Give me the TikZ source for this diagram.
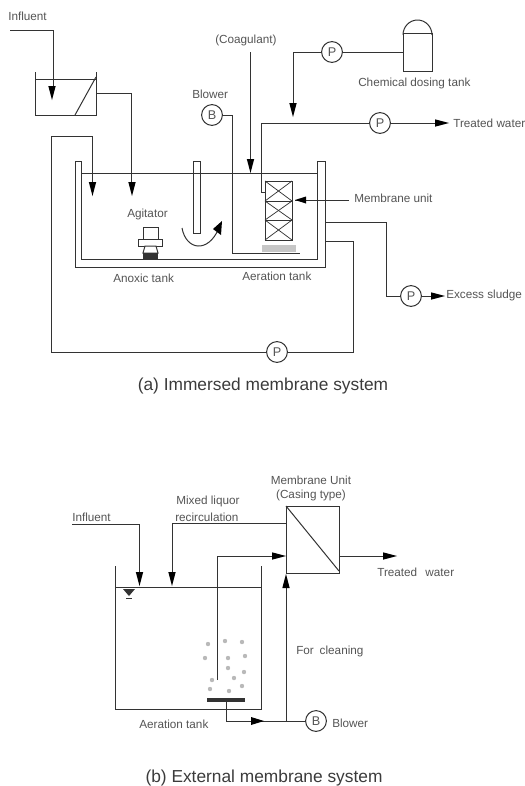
\documentclass[tikz,border=0pt]{standalone}
\usepackage{fontspec}
\setmainfont{Liberation Sans}
\definecolor{ln}{gray}{0.2}
\definecolor{tx}{gray}{0.33}
\tikzset{
  x=0.75pt,y=-0.75pt,
  pipe/.style={draw=ln,line width=0.75pt},
  thinpipe/.style={draw=ln,line width=0.55pt},
  lab/.style={font=\fontsize{8.8}{10}\selectfont,text=tx,inner sep=0pt,anchor=base west},
  captext/.style={font=\fontsize{13}{15}\selectfont,text=tx!70!black,inner sep=0pt,anchor=base},
  pump/.style={circle,draw=ln,line width=0.75pt,fill=white,minimum size=15.6pt,inner sep=0pt,font=\fontsize{9.5}{10}\selectfont,text=tx},
}
\newcommand{\hdD}[2]{\fill[black] (#1-3.7,#2-14) -- (#1+3.7,#2-14) -- (#1,#2) -- cycle;}
\newcommand{\hdR}[2]{\fill[black] (#1-14,#2-3.7) -- (#1-14,#2+3.7) -- (#1,#2) -- cycle;}
\begin{document}
\begin{tikzpicture}
\useasboundingbox (0,0) rectangle (525,786);
% ---- (a) labels
\node[lab] (tInf) at (8,20) {Influent};
\node[lab] (tCoag) at (215,43) {(Coagulant)};
\node[lab] (tBlow) at (192,98) {Blower};
\node[lab] (tChem) at (358,86) {Chemical dosing tank};
\node[lab] (tTreat) at (453,127) {Treated water};
\node[lab] (tMem) at (354,202) {Membrane unit};
\node[lab] (tAgit) at (127,217) {Agitator};
\node[lab] (tAno) at (113,282) {Anoxic tank};
\node[lab] (tAer) at (242,280) {Aeration tank};
\node[lab] (tExc) at (446,298) {Excess sludge};
\node[captext] (tCapA) at (263,390) {(a) Immersed membrane system};
% ---- (a) small influent tank
\coordinate (infS) at (10,30);
\coordinate (infC) at (53,30);
\draw[pipe] (infS) -- (infC) -- (53,90);
\hdD{52}{100}
\draw[pipe] (35,72) -- (35,115) -- (96,115) -- (96,72);
\draw[thinpipe] (35,79) -- (96,79);
\draw[pipe] (75,115) -- (96,77);
\draw[pipe] (96,93) -- (131,93) -- (131,185);
\hdD{132}{196}
% ---- (a) main tank
\draw[pipe] (75,161) -- (75,267) -- (325,267) -- (325,161) -- (317,161) -- (317,259) -- (81,259) -- (81,161) -- cycle;
\draw[pipe] (81,173) -- (317,173);
% baffle
\draw[pipe] (193,161) -- (193,233) -- (200,233) -- (200,161) -- cycle;
% recirc
\node[pump] (pRet) at (277,352) {P};
\draw[pipe] (325,241) -- (353,241) -- (353,352) -- (pRet);
\draw[pipe] (pRet) -- (51,352) -- (51,136) -- (92,136) -- (92,185);
\hdD{92.5}{196}
% excess
\node[pump] (pExc) at (411,296) {P};
\draw[pipe] (325,222) -- (386,222) -- (386,296) -- (pExc);
\draw[pipe] (pExc) -- (435,296);
\hdR{445}{296}
% agitator
\draw[pipe,fill=white] (143,227) rectangle (158,239);
\draw[pipe,fill=white] (138,239) rectangle (162,246);
\draw[pipe,fill=white] (145,246) -- (143,253) -- (158,253) -- (156,246) -- cycle;
\fill[ln] (143,253) rectangle (158,259);
% rotation arrow
\draw[pipe] (182,228) .. controls (186,250) and (208,254) .. (219,228);
\fill[black] (222,221) -- (213,229) -- (221,235) -- cycle;
% blower
\node[pump] (pB) at (212,115) {B};
\draw[pipe] (pB) -- (232,115) -- (232,253) -- (300,253);
\fill[gray!45] (262,245) rectangle (296,252);
% membrane unit
\draw[pipe] (261,123) -- (261,192) -- (265,192);
\draw[pipe] (265,181) rectangle (292,240);
\foreach \a/\b in {181/201,201/220,220/240}{
  \draw[thinpipe] (265,\a) -- (292,\b);
  \draw[thinpipe] (292,\a) -- (265,\b);
  \draw[thinpipe] (265,\b) -- (292,\b);
}
% treated water
\node[pump] (pTr) at (380,123) {P};
\draw[pipe] (261,123) -- (pTr);
\draw[pipe] (pTr) -- (438,123);
\hdR{449}{123}
% coagulant
\draw[pipe] (250,52) -- (250,162);
\hdD{250.5}{173}
% chemical tank
\node[pump] (pCh) at (332,52) {P};
\coordinate (chemT) at (403,52);
\draw[pipe] (403,33) rectangle (432,71);
\draw[pipe] (403,35) arc[start angle=180,end angle=360,x radius=14.5,y radius=15];
\draw[pipe] (pCh) -- (chemT);
\draw[pipe] (pCh) -- (293,52) -- (293,106);
\hdD{293}{117}
% membrane pointer
\coordinate (memS) at (349,200);
\coordinate (memE) at (295,200);
\draw[thinpipe] (memS) -- (memE);
\fill[black] (memE) -- (306,196.5) -- (306,203.5) -- cycle;
% ---- (b) labels
\node[lab] (bInf) at (72,521) {Influent};
\node[lab] (bMix1) at (176,504) {Mixed liquor};
\node[lab] (bMix2) at (175,521) {recirculation};
\node[lab,anchor=base] (bMem) at (311,484) {Membrane Unit};
\node[lab,anchor=base] (bCas) at (311,498) {(Casing type)};
\node[lab] (bTr) at (377,576) {Treated\hspace{0.7em}water};
\node[lab] (bCl) at (296,654) {For\hspace{0.5em}cleaning};
\node[lab] (bAer) at (139,728) {Aeration tank};
\node[lab] (bBl) at (332,727) {Blower};
\node[captext] (tCapB) at (264,782) {(b) External membrane system};
% ---- (b) unit
\draw[pipe] (286,506) rectangle (339,573);
\draw[pipe] (286,506) -- (339,571);
\draw[pipe] (339,556) -- (388,556);
\hdR{397}{556}
% tank
\draw[pipe] (115,566) -- (115,709) -- (261,709) -- (261,566);
\draw[pipe] (115,587) -- (261,587);
\fill[ln] (123,589) -- (135,589) -- (129,596) -- cycle;
\draw[thinpipe] (126,598) -- (132,598);
% influent
\draw[pipe] (72,524) -- (139,524) -- (139,576);
\hdD{139.5}{586}
% recirc
\draw[pipe] (286,523) -- (172,523) -- (172,576);
\hdD{172}{586}
% air line
\draw[pipe] (217,680) -- (217,556) -- (276,556);
\hdR{286}{556}
% diffuser
\draw[draw=ln,line width=2.4pt] (207,700) -- (245,700);
\node[pump] (bB) at (316,721) {B};
\draw[pipe] (226,701) -- (226,721) -- (bB);
\fill[black] (251,717) -- (251,725) -- (264,721) -- cycle;
% blower branch
\draw[pipe] (286,721) -- (286,585);
\fill[black] (286,574) -- (282.3,588) -- (289.7,588) -- cycle;
% bubbles
\foreach \p/\q in {208/644,225/641,242/642,205/658,228/658,245/656,228/668,244/672,234/678,212/680,210/689,229/691,242/686}{
  \fill[gray!55] (\p,\q) circle (2.2);
}
\end{tikzpicture}
\end{document}
